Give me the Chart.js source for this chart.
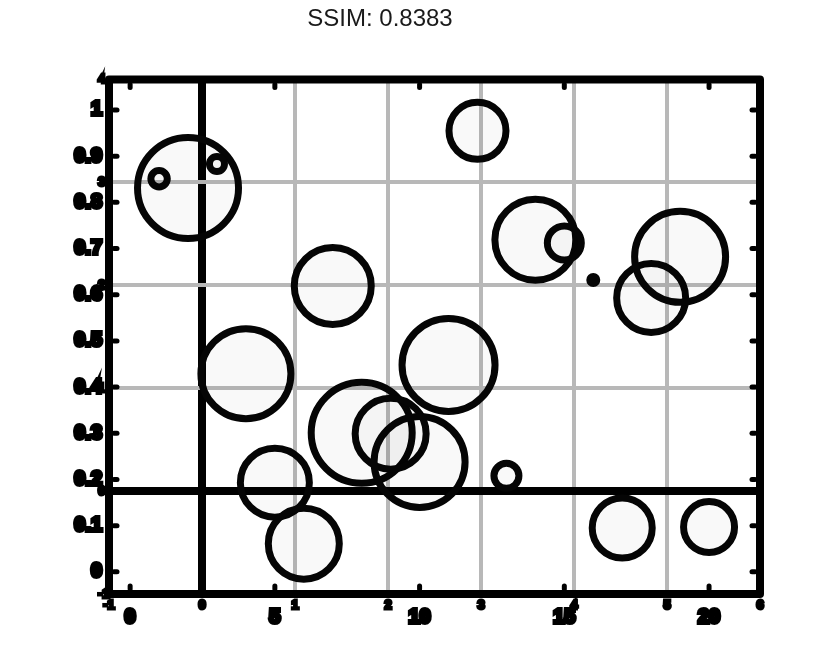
<!DOCTYPE html>
<html><head><meta charset="utf-8">
<script src="https://cdn.jsdelivr.net/npm/chart.js@4/dist/chart.umd.min.js"></script>
<style>html,body{margin:0;padding:0;background:#fff}#wrap{width:840px;height:664px}</style>
</head><body><div id="wrap"><canvas id="c" width="840" height="664"></canvas></div>
<script>
const titleText = 'SSIM: 0.8383';
const xValues = [1,2,3,4,5,6,7,8,9,10,11,12,13,14,15,16,17,18,19,20];
const yValues = [0.851,0.831,0.883,0.429,0.193,0.061,0.619,0.301,0.299,0.238,0.448,0.955,0.208,0.719,0.712,0.632,0.095,0.593,0.682,0.097];
const bubbleRadii = [8.2,50.5,7.5,45,34.5,35.5,38.5,50.5,35.5,45.5,46.5,28.5,12.5,40.5,17,3.5,30,34.5,45.5,25.5];
const xTicks = [0,5,10,15,20];
const yTicks = [0,0.1,0.2,0.3,0.4,0.5,0.6,0.7,0.8,0.9,1];
const x2Ticks = [-1,0,1,2,3,4,5,6];
const y2Ticks = [-1,0,1,2,3,4];

const FONT = 'Liberation Sans, Arial, sans-serif';
const bigTick = {size:20, weight:'bold', family:FONT};
const smallTick = {size:13, weight:'bold', family:FONT};
const gridColor = c => (c.tick && c.tick.value === 0) ? '#000' : '#b8b8b8';
const gridWidth = c => (c.tick && c.tick.value === 0) ? 8 : 4;

const framePlugin = {
  id:'frame',
  afterDatasetsDraw(chart){
    const {ctx, chartArea:a, scales} = chart;
    ctx.save();
    ctx.strokeStyle = '#000';
    ctx.lineWidth = 8;
    ctx.lineJoin = 'round';
    ctx.strokeRect(a.left, a.top, a.right - a.left, a.bottom - a.top);
    ctx.lineWidth = 5;
    ctx.lineCap = 'round';
    const seg = (x1,y1,x2,y2) => {ctx.beginPath(); ctx.moveTo(x1,y1); ctx.lineTo(x2,y2); ctx.stroke();};
    scales.x.ticks.forEach(t => {
      const p = scales.x.getPixelForValue(t.value);
      seg(p, a.bottom - 5, p, a.bottom - 8);
      seg(p, a.top + 5, p, a.top + 8);
    });
    scales.y.ticks.forEach(t => {
      const p = scales.y.getPixelForValue(t.value);
      seg(a.left + 5, p, a.left + 8, p);
      seg(a.right - 5, p, a.right - 8, p);
    });
    ctx.restore();
  }
};

new Chart(document.getElementById('c'), {
  type:'bubble',
  data:{datasets:[{
    data: xValues.map((x,i) => ({x:x, y:yValues[i], r:bubbleRadii[i]})),
    backgroundColor:'rgba(0,0,0,0.025)',
    borderColor:'#050505',
    borderWidth:7,
    hoverRadius:0
  }]},
  options:{
    responsive:false,
    animation:false,
    events:[],
    devicePixelRatio:1,
    layout:{padding:{left:0,right:80,top:0,bottom:0}},
    plugins:{
      legend:{display:false},
      tooltip:{enabled:false},
      title:{display:true, text:titleText, color:'#1a1a1a',
        font:{size:24, weight:'normal', family:FONT},
        padding:{top:5,bottom:45.7}}
    },
    scales:{
      x:{type:'linear', position:'bottom', weight:1, min:-0.73, max:21.76,
        afterBuildTicks:s => {s.ticks = xTicks.map(v => ({value:v}));},
        afterFit:s => {s.height = 70;},
        grid:{display:false, drawTicks:false}, border:{display:false},
        ticks:{font:bigTick, color:'#000', textStrokeColor:'#000', textStrokeWidth:4, padding:11, maxRotation:0, autoSkip:false}},
      x2:{type:'linear', position:'bottom', weight:0, min:-1, max:6,
        afterBuildTicks:s => {s.ticks = x2Ticks.map(v => ({value:v}));},
        afterFit:s => {s.height = 0;},
        grid:{drawTicks:false, color:gridColor, lineWidth:gridWidth}, border:{display:false},
        ticks:{font:smallTick, color:'#000', textStrokeColor:'#000', textStrokeWidth:3, mirror:true, padding:-18.8, maxRotation:0, autoSkip:false}},
      y:{type:'linear', position:'left', weight:1, min:-0.048, max:1.066,
        afterBuildTicks:s => {s.ticks = yTicks.map(v => ({value:v}));},
        afterFit:s => {s.width = 109;},
        grid:{display:false, drawTicks:false}, border:{display:false},
        ticks:{font:bigTick, color:'#000', textStrokeColor:'#000', textStrokeWidth:4, padding:7, autoSkip:false,
          callback:v => String(Math.round(v*10)/10)}},
      y2:{type:'linear', position:'left', weight:0, min:-1, max:4,
        afterBuildTicks:s => {s.ticks = y2Ticks.map(v => ({value:v}));},
        afterFit:s => {s.width = 0;},
        grid:{drawTicks:false, color:gridColor, lineWidth:gridWidth}, border:{display:false},
        ticks:{font:smallTick, color:'#000', textStrokeColor:'#000', textStrokeWidth:3, mirror:true, padding:-11, autoSkip:false}}
    }
  },
  plugins:[framePlugin]
});
</script></body></html>
